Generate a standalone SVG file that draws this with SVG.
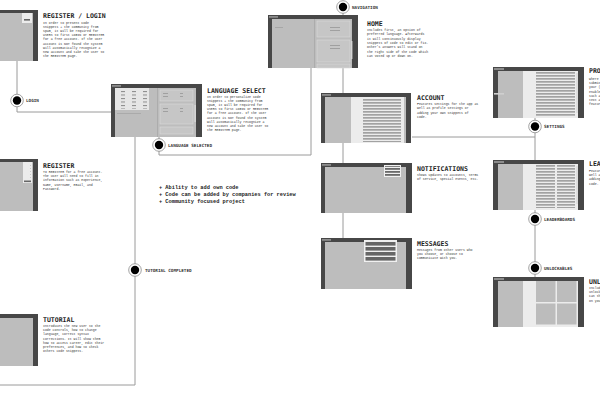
<svg xmlns="http://www.w3.org/2000/svg" width="600" height="400" viewBox="0 0 600 400">
<style>
.frame{fill:#474747}
.inner{fill:#bdbdbd}
.tab{fill:#8c8c8c}
.panel{fill:#b3b3b3}
.white{fill:#ececec}
.sect{fill:#c6c6c6;stroke:#d9d9d9;stroke-width:0.6}
.dk{fill:#666}
.title{font-family:"DejaVu Sans Mono","Liberation Mono",monospace;font-weight:bold;font-size:6.5px;fill:#1e1e1e}
.desc{font-family:"Liberation Mono","DejaVu Sans Mono",monospace;font-size:3.2px;fill:#333}
.lbl{font-family:"DejaVu Sans Mono","Liberation Mono",monospace;font-weight:bold;font-size:4.3px;fill:#333}
.bul{font-family:"Liberation Mono","DejaVu Sans Mono",monospace;font-weight:bold;font-size:5.3px;fill:#222}
.conn{stroke:#9a9a9a;stroke-width:1;fill:none}
.ring{fill:#fff;stroke:#8a8a8a;stroke-width:0.8}
.dot{fill:#000}
</style>
<defs>
<pattern id="hl" width="4" height="3" patternUnits="userSpaceOnUse"><rect width="4" height="1.7" fill="#a2a2a2"/></pattern>
<pattern id="st" width="4" height="3" patternUnits="userSpaceOnUse"><rect width="4" height="1.8" fill="#6a6a6a"/></pattern>
<pattern id="gd" width="11" height="3.5" patternUnits="userSpaceOnUse"><rect width="4" height="1" fill="#8a8a8a"/></pattern>
<pattern id="tl" width="30" height="3" patternUnits="userSpaceOnUse"><rect width="18" height="0.9" fill="#9c9c9c"/></pattern>
</defs>

<g id="connectors">
<polyline class="conn" points="17,61 17,112 111,112"/>
<polyline class="conn" points="159,137 159,155 311,155 311,68"/>
<polyline class="conn" points="135,137 135,385 0,385"/>
<line class="conn" x1="343" y1="7" x2="343" y2="15"/>
<line class="conn" x1="343" y1="68" x2="343" y2="93"/>
<line class="conn" x1="343" y1="143" x2="343" y2="163"/>
<line class="conn" x1="343" y1="213" x2="343" y2="238"/>
<polyline class="conn" points="412,137 535,137"/>
<line class="conn" x1="535" y1="118" x2="535" y2="160"/>
<line class="conn" x1="535" y1="210" x2="535" y2="277"/>
</g>

<g id="markers">
<g id="m-login"><circle class="ring" cx="17" cy="100.5" r="6.3"/><circle class="dot" cx="17" cy="100.5" r="4.2"/><text class="lbl" x="26" y="102">LOGIN</text></g>
<g id="m-lang"><circle class="ring" cx="159" cy="145" r="6.3"/><circle class="dot" cx="159" cy="145" r="4.2"/><text class="lbl" x="168" y="146.5">LANGUAGE SELECTED</text></g>
<g id="m-tut"><circle class="ring" cx="135" cy="270" r="6.3"/><circle class="dot" cx="135" cy="270" r="4.2"/><text class="lbl" x="145" y="271.5">TUTORIAL COMPLETED</text></g>
<g id="m-nav"><circle class="ring" cx="343" cy="7" r="6.3"/><circle class="dot" cx="343" cy="7" r="4.2"/><text class="lbl" x="352" y="8.5">NAVIGATION</text></g>
<g id="m-set"><circle class="ring" cx="535" cy="126.5" r="6.3"/><circle class="dot" cx="535" cy="126.5" r="4.2"/><text class="lbl" x="544" y="128">SETTINGS</text></g>
<g id="m-lead"><circle class="ring" cx="535" cy="219" r="6.3"/><circle class="dot" cx="535" cy="219" r="4.2"/><text class="lbl" x="544" y="220.5">LEADERBOARDS</text></g>
<g id="m-unl"><circle class="ring" cx="535" cy="268" r="6.3"/><circle class="dot" cx="535" cy="268" r="4.2"/><text class="lbl" x="544" y="269.5">UNLOCKABLES</text></g>
</g>

<g id="register-login">
<rect class="frame" x="-53" y="10" width="91" height="51"/>
<rect class="inner" x="-49" y="13" width="82" height="48"/>
<rect class="white" x="22" y="13" width="10" height="10"/>
<rect class="dk" x="24" y="19" width="6" height="1.6"/>
<text class="title" x="43" y="17.5">REGISTER / LOGIN</text>
<text class="desc"><tspan x="43" y="23.5">In order to present Code</tspan><tspan x="43" y="27.7">Snippets + the community from</tspan><tspan x="43" y="31.9">spam, it will be required for</tspan><tspan x="43" y="36.1">USERS to first LOGIN or REGISTER</tspan><tspan x="43" y="40.3">for a free account. If the user</tspan><tspan x="43" y="44.5">account is NOT found the system</tspan><tspan x="43" y="48.7">will automatically recognize a</tspan><tspan x="43" y="52.9">new account and take the user to</tspan><tspan x="43" y="57.1">the REGISTER page.</tspan></text>
</g>

<g id="register">
<rect class="frame" x="-53" y="159" width="91" height="52"/>
<rect class="inner" x="-49" y="162" width="82" height="49"/>
<rect class="white" x="23" y="162" width="9" height="21"/>
<rect x="24.5" y="165" width="6" height="14" fill="url(#tl)"/>
<rect class="dk" x="24" y="180.5" width="7" height="1.6"/>
<text class="title" x="43" y="167.5">REGISTER</text>
<text class="desc"><tspan x="43" y="172.7">To REGISTER for a free account.</tspan><tspan x="43" y="177">The user will need to fill in</tspan><tspan x="43" y="181.3">information such as Experience,</tspan><tspan x="43" y="185.6">Name, Username, Email, and</tspan><tspan x="43" y="189.9">Password.</tspan></text>
</g>

<g id="tutorial">
<rect class="frame" x="-53" y="314" width="91" height="52"/>
<rect class="inner" x="-49" y="318" width="82" height="48"/>
<text class="title" x="43" y="321.7">TUTORIAL</text>
<text class="desc"><tspan x="43" y="327">Introduces the new user to the</tspan><tspan x="43" y="331.2">Code controls, how to change</tspan><tspan x="43" y="335.4">language, correct syntax</tspan><tspan x="43" y="339.6">corrections. It will show them</tspan><tspan x="43" y="343.8">how to access career, edit their</tspan><tspan x="43" y="348">preferences, and how to check</tspan><tspan x="43" y="352.2">others code snippets.</tspan></text>
</g>

<g id="language-select">
<rect class="frame" x="111" y="84" width="91" height="53"/>
<rect class="inner" x="115" y="88" width="81" height="49"/>
<rect class="tab" x="112" y="85" width="9" height="1.8"/>
<rect fill="#e6e6e6" x="115" y="88" width="34" height="22"/>
<rect x="118" y="91" width="30" height="18" fill="url(#gd)"/>
<rect x="117" y="113" width="24" height="0.8" fill="#a5a5a5"/>
<rect x="157" y="88" width="0.8" height="49" fill="#a8a8a8"/>
<rect class="sect" x="160" y="90" width="33" height="11"/>
<rect class="sect" x="160" y="104" width="33" height="20"/>
<rect class="sect" x="160" y="127" width="33" height="7"/>
<rect x="163" y="93" width="20" height="5" fill="url(#tl)"/>
<rect x="163" y="107" width="20" height="5" fill="url(#tl)"/>
<rect x="194.5" y="105" width="1.2" height="17" fill="#dedede"/>
<text class="title" x="207" y="92.5">LANGUAGE SELECT</text>
<text class="desc"><tspan x="207" y="97.5">In order to personalize Code</tspan><tspan x="207" y="101.7">Snippets + the community from</tspan><tspan x="207" y="105.9">spam, it will be required for</tspan><tspan x="207" y="110.1">USERS to first LOGIN or REGISTER</tspan><tspan x="207" y="114.3">for a free account. If the user</tspan><tspan x="207" y="118.5">account is NOT found the system</tspan><tspan x="207" y="122.7">will automatically recognize a</tspan><tspan x="207" y="126.9">new account and take the user to</tspan><tspan x="207" y="131.1">the REGISTER page.</tspan></text>
</g>

<g id="bullets">
<text class="bul"><tspan x="159" y="189">+ Ability to add own code</tspan><tspan x="159" y="196">+ Code can be added by companies for review</tspan><tspan x="159" y="203">+ Community focused project</tspan></text>
</g>

<g id="home">
<rect class="frame" x="268" y="15" width="90" height="53"/>
<rect class="inner" x="272" y="19" width="80" height="49"/>
<rect class="tab" x="269" y="16" width="9" height="1.8"/>
<rect x="275" y="27" width="8" height="0.8" fill="#a0a0a0"/>
<rect x="314" y="19" width="0.8" height="49" fill="#a8a8a8"/>
<rect class="sect" x="317" y="21" width="33" height="16"/>
<rect class="sect" x="317" y="40" width="33" height="22"/>
<rect class="sect" x="317" y="64" width="33" height="4"/>
<rect x="320" y="25" width="20" height="6" fill="url(#tl)"/>
<rect x="320" y="45" width="20" height="6" fill="url(#tl)"/>
<rect x="351.2" y="41" width="1.2" height="18" fill="#dedede"/>
<text class="title" x="367" y="26">HOME</text>
<text class="desc"><tspan x="367" y="31">Includes first, an option of</tspan><tspan x="367" y="35.3">preferred language. Afterwards</tspan><tspan x="367" y="39.6">it will continuously display</tspan><tspan x="367" y="43.9">snippets of code to edit or fix.</tspan><tspan x="367" y="48.2">Other's answers will stand on</tspan><tspan x="367" y="52.5">the right side of the code which</tspan><tspan x="367" y="56.8">can voted up or down on.</tspan></text>
</g>

<g id="account">
<rect class="frame" x="321" y="93" width="90" height="50"/>
<rect class="inner" x="325" y="97" width="81" height="46"/>
<rect class="tab" x="322" y="94" width="9" height="1.8"/>
<rect class="white" x="351" y="97" width="53" height="46"/>
<rect x="363" y="98" width="38" height="44" fill="url(#hl)"/>
<text class="title" x="417" y="100">ACCOUNT</text>
<text class="desc"><tspan x="417" y="105">Features settings for the app as</tspan><tspan x="417" y="109.3">well as profile settings or</tspan><tspan x="417" y="113.6">adding your own snippets of</tspan><tspan x="417" y="117.9">code.</tspan></text>
</g>

<g id="notifications">
<rect class="frame" x="321" y="163" width="91" height="50"/>
<rect class="inner" x="325" y="167" width="81" height="46"/>
<rect class="tab" x="322" y="164" width="9" height="1.8"/>
<rect fill="#f0f0f0" x="384" y="165" width="17" height="12"/>
<rect x="385" y="166" width="15" height="10" fill="url(#st)"/>
<text class="title" x="417" y="170.7">NOTIFICATIONS</text>
<text class="desc"><tspan x="417" y="176">Shows updates to accounts, terms</tspan><tspan x="417" y="180.3">of service, special events, etc.</tspan></text>
</g>

<g id="messages">
<rect class="frame" x="321" y="238" width="91" height="51"/>
<rect class="inner" x="325" y="242" width="81" height="47"/>
<rect class="tab" x="322" y="239" width="9" height="1.8"/>
<rect fill="#f0f0f0" x="364" y="240" width="33" height="22"/>
<rect class="dk" x="365.5" y="242" width="30" height="3.6"/>
<rect class="dk" x="365.5" y="247" width="30" height="3.6"/>
<rect class="dk" x="365.5" y="252" width="30" height="3.6"/>
<rect class="dk" x="365.5" y="257" width="30" height="3.6"/>
<text class="title" x="417" y="245.7">MESSAGES</text>
<text class="desc"><tspan x="417" y="251">Messages from other users who</tspan><tspan x="417" y="255.2">you choose, or choose to</tspan><tspan x="417" y="259.4">communicate with you.</tspan></text>
</g>

<g id="profile">
<rect class="frame" x="493" y="67" width="91" height="51"/>
<rect class="inner" x="498" y="71" width="80" height="47"/>
<rect class="tab" x="494" y="68" width="10" height="2"/>
<rect fill="#cfcfcf" x="494" y="93" width="10" height="1.6"/>
<rect class="white" x="523" y="71" width="55" height="47"/>
<rect x="536" y="72" width="39" height="44" fill="url(#hl)"/>
<rect x="576.5" y="73" width="1" height="40" fill="#d0d0d0"/>
<text class="title" x="589" y="73.3">PROFILE</text>
<text class="desc"><tspan x="589" y="80">Where users can view and</tspan><tspan x="589" y="84.2">submit their own snippets,</tspan><tspan x="589" y="88.4">your (stats) and settings</tspan><tspan x="589" y="92.6">enable options and</tspan><tspan x="589" y="96.8">such as dark mode and</tspan><tspan x="589" y="101">text and other</tspan><tspan x="589" y="105.2">features.</tspan></text>
</g>

<g id="leaderboards">
<rect class="frame" x="493" y="160" width="91" height="50"/>
<rect class="inner" x="498" y="164" width="80" height="46"/>
<rect class="tab" x="494" y="161" width="10" height="2"/>
<rect class="white" x="523" y="164" width="55" height="46"/>
<rect x="536" y="165" width="19" height="43" fill="url(#hl)"/>
<rect x="557" y="165" width="18" height="43" fill="url(#hl)"/>
<rect x="576.5" y="166" width="1" height="38" fill="#d0d0d0"/>
<text class="title" x="589" y="166">LEADERBOARDS</text>
<text class="desc"><tspan x="589" y="172">Features settings for the app as</tspan><tspan x="589" y="176.2">well as profile settings or</tspan><tspan x="589" y="180.4">adding your own snippets of</tspan><tspan x="589" y="184.6">code.</tspan></text>
</g>

<g id="unlockables">
<rect class="frame" x="493" y="277" width="91" height="50"/>
<rect class="inner" x="498" y="281" width="80" height="46"/>
<rect class="tab" x="494" y="278" width="10" height="2"/>
<rect class="white" x="523" y="281" width="55" height="46"/>
<rect fill="#bcbcbc" x="536" y="281" width="19.5" height="21"/>
<rect fill="#bcbcbc" x="557" y="281" width="19.5" height="21"/>
<rect fill="#bcbcbc" x="536" y="303.5" width="19.5" height="21"/>
<rect fill="#bcbcbc" x="557" y="303.5" width="19.5" height="21"/>
<text class="title" x="589" y="284">UNLOCKABLES</text>
<text class="desc"><tspan x="589" y="289">Includes badges and other</tspan><tspan x="589" y="293.2">unlockables the user</tspan><tspan x="589" y="297.4">can then display</tspan><tspan x="589" y="301.6">on your profile.</tspan></text>
</g>
</svg>
